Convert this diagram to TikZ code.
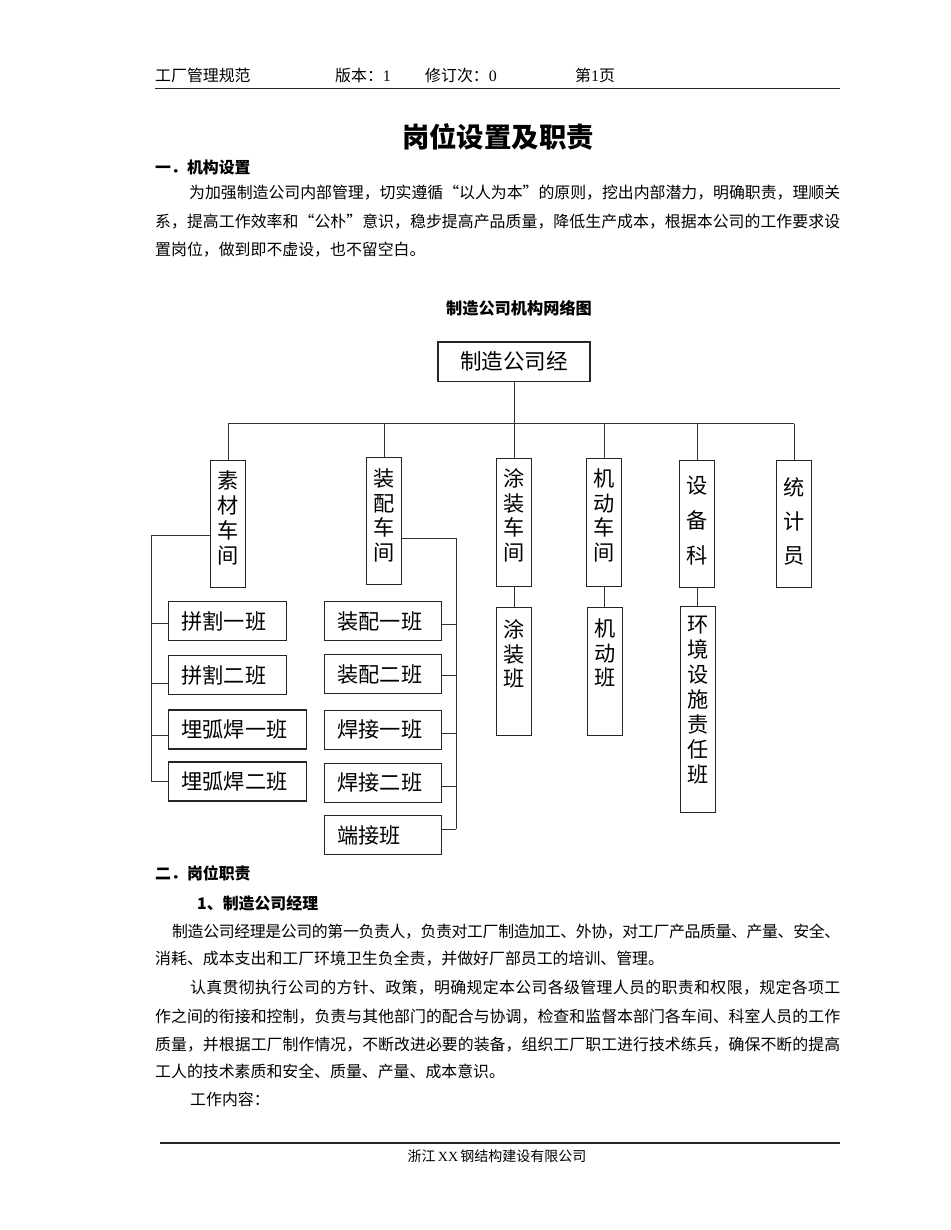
\documentclass[tikz,border=0pt]{standalone}
\usepackage{fontspec}
\setmainfont{Noto Sans CJK SC}
\newfontfamily\latinserif{Liberation Serif}
\usetikzlibrary{positioning}
\XeTeXinterchartokenstate=1
\newXeTeXintercharclass\cjkcls
\newcount\cjkidx
\newcommand\setcjkrange[2]{\cjkidx=#1\relax
  \loop\XeTeXcharclass\cjkidx=\cjkcls\relax
  \ifnum\cjkidx<#2\relax\advance\cjkidx by 1\relax\repeat}
\setcjkrange{"3000}{"303F}
\setcjkrange{"4E00}{"9FFF}
\setcjkrange{"FF00}{"FFEF}
\setcjkrange{"201C}{"201D}
\XeTeXinterchartoks\cjkcls\cjkcls={\hskip0pt plus 2pt minus 0.6pt}
\newcommand\fullline[2]{\makebox[#1][s]{#2}}
\newcommand\vcol[4]{\parbox[t][#1][t]{35pt}{\centering\fontsize{21.2}{#2}\selectfont\rule{0pt}{#3}#4}}

\begin{document}
\begin{tikzpicture}[x=1pt,y=-1pt,
  txt/.style={inner sep=0pt, anchor=base west, font=\fontsize{15.9}{20}\selectfont},
  head/.style={txt, font=\fontsize{15.9}{20}\selectfont\bfseries},
  rulel/.style={line width=1.2pt, black!85},
  unit/.style={draw=black!85, line width=1.1pt, inner sep=0pt, anchor=north},
  team/.style={draw=black!85, line width=1.1pt, inner xsep=13pt, inner ysep=0pt,
     minimum height=39pt, anchor=west, align=left, font=\fontsize{21.2}{25}\selectfont},
  link/.style={line width=0.9pt, black!80}]
  \useasboundingbox (0,0) rectangle (950,1230);
  \node[txt] (hdA) at (155,82) {工厂管理规范};
  \node[txt] (hdB) at (335,82) {版本：{\latinserif 1}};
  \node[txt] (hdC) at (425,82) {修订次：{\latinserif 0}};
  \node[txt] (hdD) at (575,82) {第{\latinserif 1}页};
  \coordinate (hdL) at (155,88.5);
  \coordinate (hdR) at (840,88.5);
  \draw[rulel] (hdL) -- (hdR);
  \node[inner sep=0pt, anchor=base, font=\fontsize{27.4}{30}\selectfont\bfseries] (title) at (498,148) {岗位设置及职责};
  \node[head] (secA) at (155,174) {一．机构设置};
  \node[txt] (pA1) at (189,199) {\fullline{651pt}{为加强制造公司内部管理，切实遵循“以人为本”的原则，挖出内部潜力，明确职责，理顺关}};
  \node[txt] (pA2) at (155,228) {\fullline{685pt}{系，提高工作效率和“公朴”意识，稳步提高产品质量，降低生产成本，根据本公司的工作要求设}};
  \node[txt] (pA3) at (155,256) {置岗位，做到即不虚设，也不留空白。};
  \node[inner sep=0pt, anchor=base, font=\fontsize{16.2}{20}\selectfont\bfseries] (chartT) at (519,314) {制造公司机构网络图};

  \node[draw=black!85, line width=1.1pt, minimum width=152pt, minimum height=39.5pt, inner sep=0pt,
    font=\fontsize{21.6}{25}\selectfont] (mgr) at (514,361.75) {制造公司经};
  \node[unit] (sucai) at (228,460) {\vcol{127pt}{25pt}{28pt}{素\\材\\车\\间}};
  \node[unit] (zhuang) at (384,457) {\vcol{127pt}{24.7pt}{29pt}{装\\配\\车\\间}};
  \node[unit] (tuzhuang) at (514,458) {\vcol{128pt}{24.7pt}{28pt}{涂\\装\\车\\间}};
  \node[unit] (jidong) at (604,458) {\vcol{128pt}{24.7pt}{28pt}{机\\动\\车\\间}};
  \node[unit] (shebei) at (697,460) {\vcol{127pt}{35pt}{33pt}{设\\备\\科}};
  \node[unit] (tongji) at (794,460) {\vcol{127pt}{34pt}{35pt}{统\\计\\员}};
  \node[unit] (tzban) at (514,607) {\vcol{128pt}{24.5pt}{30pt}{涂\\装\\班}};
  \node[unit] (jdban) at (605,607) {\vcol{128pt}{24.5pt}{29pt}{机\\动\\班}};
  \node[unit] (hjban) at (698,606) {\vcol{206pt}{25pt}{26pt}{环\\境\\设\\施\\责\\任\\班}};

  \draw[link] (mgr.south) -- ++(0,41.5) coordinate (bus);
  \draw[link] (sucai.north |- bus) -- (tongji.north |- bus);
  \foreach \u in {sucai,zhuang,tuzhuang,jidong,shebei,tongji}
    \draw[link] (\u.north |- bus) -- (\u.north);
  \draw[link] (tuzhuang.south) -- (tzban.north);
  \draw[link] (jidong.south) -- (jidong.south |- jdban.north);
  \draw[link] (shebei.south) -- (shebei.south |- hjban.north);

  \node[team, text width=92pt] (pg1) at (168,621.2) {拼割一班};
  \node[team, text width=92pt] (pg2) at (168,675.3) {拼割二班};
  \node[team, text width=112pt] (mh1) at (168,729.5) {埋弧焊一班};
  \node[team, text width=112pt] (mh2) at (168,781.5) {埋弧焊二班};
  \coordinate (bkL) at (151,535);
  \foreach \t/\s in {pg1/-2,pg2/-8,mh1/-6,mh2/0}{
    \path ([yshift=\s pt]\t.west) coordinate (tk\t);
    \draw[link] (tk\t) -- (tk\t -| bkL);}
  \draw[link] (sucai.west |- bkL) -- (bkL) -- (bkL |- tkmh2);

  \node[team, text width=91pt] (zp1) at (324,621.2) {装配一班};
  \node[team, text width=91pt] (zp2) at (324,674.2) {装配二班};
  \node[team, text width=91pt] (hj1) at (324,729.9) {焊接一班};
  \node[team, text width=91pt] (hj2) at (324,782.8) {焊接二班};
  \node[team, text width=91pt] (dj) at (324,835) {端接班};
  \coordinate (bkR) at (456,538);
  \foreach \t/\s in {zp1/-2.8,zp2/-0.8,hj1/-4,hj2/-4,dj/6}{
    \path ([yshift=\s pt]\t.east) coordinate (tk\t);
    \draw[link] (tk\t) -- (tk\t -| bkR);}
  \draw[link] (zhuang.east |- bkR) -- (bkR) -- (bkR |- tkdj);

  \node[head] (secB) at (155,879) {二．岗位职责};
  \node[head] (subB) at (197,909) {1、制造公司经理};
  \node[txt] (pB1) at (172,937) {\fullline{668pt}{制造公司经理是公司的第一负责人，负责对工厂制造加工、外协，对工厂产品质量、产量、安全、}};
  \node[txt] (pB2) at (155,964) {消耗、成本支出和工厂环境卫生负全责，并做好厂部员工的培训、管理。};
  \node[txt] (pC1) at (190,993) {\fullline{650pt}{认真贯彻执行公司的方针、政策，明确规定本公司各级管理人员的职责和权限，规定各项工}};
  \node[txt] (pC2) at (155,1022) {\fullline{685pt}{作之间的衔接和控制，负责与其他部门的配合与协调，检查和监督本部门各车间、科室人员的工作}};
  \node[txt] (pC3) at (155,1050) {\fullline{685pt}{质量，并根据工厂制作情况，不断改进必要的装备，组织工厂职工进行技术练兵，确保不断的提高}};
  \node[txt] (pC4) at (155,1077) {工人的技术素质和安全、质量、产量、成本意识。};
  \node[txt] (pD) at (190,1105) {工作内容：};
  \coordinate (ftL) at (160,1143);
  \coordinate (ftR) at (840,1143);
  \draw[rulel] (ftL) -- (ftR);
  \node[inner sep=0pt, anchor=base, font=\fontsize{14}{16}\selectfont] (foot) at (497,1161) {浙江\,{\latinserif XX}\,钢结构建设有限公司};
\end{tikzpicture}
\end{document}
